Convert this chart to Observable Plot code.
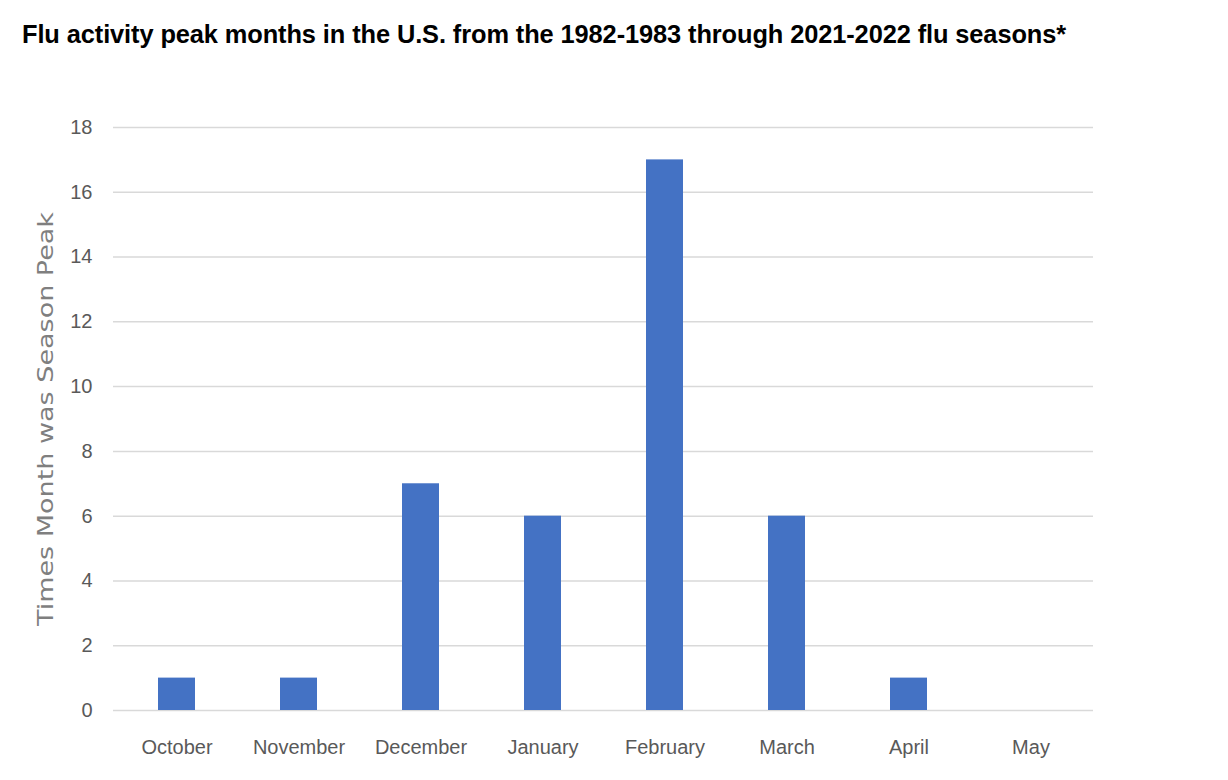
<!DOCTYPE html>
<html><head><meta charset="utf-8">
<script src="https://cdn.jsdelivr.net/npm/d3@7"></script>
<script src="https://cdn.jsdelivr.net/npm/@observablehq/plot@0.6"></script>
<style>
body{margin:0;background:#fff;width:1228px;height:780px;overflow:hidden;position:relative}
#title{position:absolute;left:22px;top:20px;font-family:"Liberation Sans",sans-serif;font-weight:bold;font-size:25.4px;color:#000;white-space:nowrap;letter-spacing:-0.1px}
#chart{position:absolute;left:0;top:60px}
</style></head>
<body>
<div id="title">Flu activity peak months in the U.S. from the 1982-1983 through 2021-2022 flu seasons*</div>
<div id="chart"></div>
<script>
const months = ["October","November","December","January","February","March","April","May"];
const peakCounts = [1,1,7,6,17,6,1,0];
const yTicks = [0,2,4,6,8,10,12,14,16,18];
const yLabel = "Times Month was Season Peak";

const data = months.map((m,i)=>({month:m,count:peakCounts[i]}));
const tickFont = '"Liberation Sans",sans-serif';

const chart = Plot.plot({
  width:1228, height:720,
  marginLeft:113, marginRight:135, marginTop:67, marginBottom:70,
  style:{fontFamily:tickFont, background:"#fff", overflow:"visible"},
  x:{domain:months, paddingInner:0.7, paddingOuter:0.35, label:null},
  y:{domain:[0,18], label:null},
  marks:[
    Plot.gridY(yTicks,{stroke:"#d9d9d9",strokeOpacity:1,strokeWidth:1.5}),
    Plot.barY(data,{x:"month",y:"count",fill:"#4472C4"}),
    Plot.axisY({ticks:yTicks,tickSize:0,tickPadding:21,fontSize:20,fill:"#595959",
      label:yLabel,labelAnchor:"center",labelArrow:"none",labelOffset:75}),
    Plot.axisX({tickSize:0,tickPadding:29,fontSize:20,fill:"#595959",label:null})
  ]
});
chart.querySelectorAll("[aria-label='y-axis label']").forEach(g=>{
  g.setAttribute("font-family","DejaVu Sans");
  g.setAttribute("font-size","21");
  g.setAttribute("fill","#7f7f7f");
  g.querySelectorAll("text").forEach(t=>{
    t.setAttribute("font-family","DejaVu Sans");
    t.setAttribute("font-size","21");
    t.setAttribute("fill","#7f7f7f");
    t.setAttribute("textLength","414");
    t.setAttribute("lengthAdjust","spacingAndGlyphs");
  });
});
document.getElementById("chart").appendChild(chart);
</script>
</body></html>
